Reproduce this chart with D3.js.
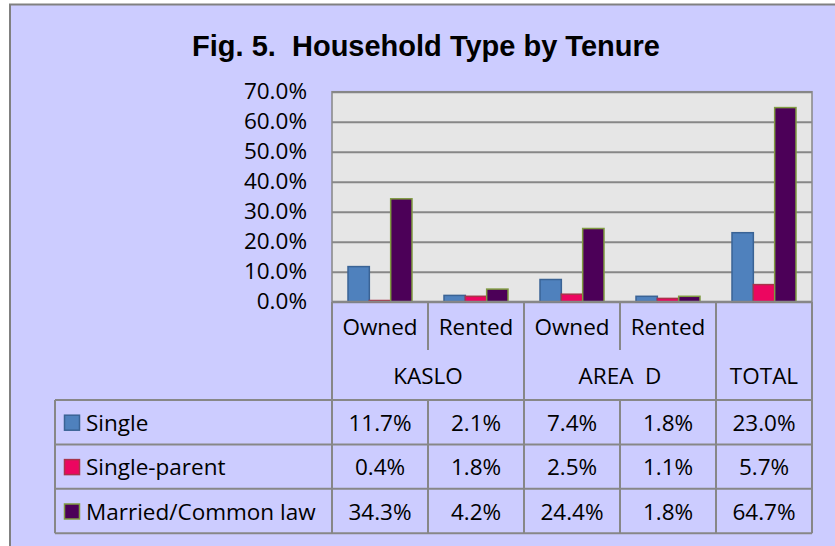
<!DOCTYPE html>
<html>
<head>
<meta charset="utf-8">
<script src="https://cdn.jsdelivr.net/npm/d3@7"></script>
<style>
  body { margin: 0; background: #fff; }
  svg text { font-family: 'Open Sans', 'Noto Sans', sans-serif; fill: #000; }
</style>
</head>
<body>
<div id="chart"></div>
<script>
const title = 'Fig. 5.  Household Type by Tenure';
const tenures = ['Owned', 'Rented', 'Owned', 'Rented', ''];
const groups = ['KASLO', 'AREA  D', 'TOTAL'];
const groupSpans = [2, 2, 1];
const seriesNames = ['Single', 'Single-parent', 'Married/Common law'];
const single = [11.7, 2.1, 7.4, 1.8, 23.0];
const singleParent = [0.4, 1.8, 2.5, 1.1, 5.7];
const married = [34.3, 4.2, 24.4, 1.8, 64.7];
const yTicks = [0, 10, 20, 30, 40, 50, 60, 70];

const fills = ['#4f81bd', '#ec0660', '#4c0058'];
const strokes = ['#3a6395', '#a8344a', '#7f9b41'];

const width = 835;
const height = 546;
const gridColor = '#878787';
const fontSize = '22.5px';

let seriesValues = [single, singleParent, married];
let categories = tenures.map((t, i) => 'c' + i);

let svg = d3.select('#chart')
  .append('svg')
    .attr('width', width)
    .attr('height', height);

// outer frame
svg.append('rect')
  .attr('x', 10)
  .attr('y', 4.5)
  .attr('width', 900)
  .attr('height', 700)
  .attr('fill', '#ccccff')
  .attr('stroke', '#808080')
  .attr('stroke-width', 2);

svg.append('text')
  .attr('x', 426)
  .attr('y', 56)
  .attr('text-anchor', 'middle')
  .style('font-family', "'Liberation Sans', Arial, sans-serif")
  .style('font-weight', 'bold')
  .style('font-size', '29px')
  .style('white-space', 'pre')
  .text(title);

let plot = { left: 332, right: 812, top: 91.7, bottom: 301.7 };

let xScale = d3.scaleBand()
  .domain(categories)
  .range([plot.left, plot.right])
  .padding(0);

let xInner = d3.scaleBand()
  .domain(seriesNames)
  .range([0, xScale.bandwidth()])
  .paddingInner(0)
  .paddingOuter(0.75);

let yScale = d3.scaleLinear()
  .domain([0, 70])
  .range([plot.bottom, plot.top]);

svg.append('rect')
  .attr('x', plot.left)
  .attr('y', plot.top)
  .attr('width', plot.right - plot.left)
  .attr('height', plot.bottom - plot.top)
  .attr('fill', '#e6e6e6')
  .attr('stroke', gridColor)
  .attr('stroke-width', 1.5);

let yAxis = d3.axisLeft(yScale)
  .tickValues(yTicks)
  .tickSize(-(plot.right - plot.left))
  .tickPadding(25)
  .tickFormat(d => d3.format('.1f')(d) + '%');

let yAxisGroup = svg.append('g')
  .attr('transform', `translate(${plot.left},0)`)
  .call(yAxis);
yAxisGroup.select('.domain').remove();
yAxisGroup.selectAll('.tick line')
  .attr('stroke', gridColor)
  .attr('stroke-width', 2);
yAxisGroup.selectAll('.tick text')
  .attr('fill', '#000')
  .style('font-size', fontSize)
  .style('font-family', "'Open Sans', sans-serif");

// bars
let barData = [];
seriesValues.forEach((vals, s) => {
  vals.forEach((v, i) => barData.push({ cat: categories[i], series: seriesNames[s], s: s, value: v }));
});

svg.append('g')
  .selectAll('rect')
  .data(barData)
  .enter()
  .append('rect')
    .attr('x', d => xScale(d.cat) + xInner(d.series))
    .attr('y', d => yScale(d.value))
    .attr('width', xInner.bandwidth())
    .attr('height', d => yScale(0) - yScale(d.value))
    .attr('fill', d => fills[d.s])
    .attr('stroke', d => strokes[d.s])
    .attr('stroke-width', 1.5);

// category axis baseline
svg.append('line')
  .attr('x1', plot.left)
  .attr('x2', plot.right)
  .attr('y1', yScale(0))
  .attr('y2', yScale(0))
  .attr('stroke', gridColor)
  .attr('stroke-width', 2);

// data table
let rowTop = 302;
let row1 = 350;
let row2 = 400;
let rowH = 44.4;
let tableLeft = 55;
let tableBottom = row2 + rowH * 3;
let table = svg.append('g');

let line = (x1, y1, x2, y2) => table.append('line')
  .attr('x1', x1).attr('y1', y1).attr('x2', x2).attr('y2', y2)
  .attr('stroke', gridColor)
  .attr('stroke-width', 2);

// verticals for the tenure row
categories.forEach(c => line(xScale(c), rowTop, xScale(c), row1));
line(plot.right, rowTop, plot.right, tableBottom);
// verticals for the group row
let acc = 0;
groupSpans.forEach(n => {
  line(xScale(categories[acc]), row1, xScale(categories[acc]), row2);
  acc += n;
});
// verticals for the value rows
categories.forEach(c => line(xScale(c), row2, xScale(c), tableBottom));
line(tableLeft, row2, tableLeft, tableBottom);
// horizontals
for (let r = 0; r <= 3; r++) {
  line(tableLeft, row2 + r * rowH, plot.right, row2 + r * rowH);
}

let cellText = (x, y, str) => table.append('text')
  .attr('x', x)
  .attr('y', y)
  .attr('text-anchor', 'middle')
  .attr('dominant-baseline', 'central')
  .style('font-size', fontSize)
  .text(str);

tenures.forEach((t, i) => cellText(xScale(categories[i]) + xScale.bandwidth() / 2, 326, t));

acc = 0;
groups.forEach((g, k) => {
  let x0 = xScale(categories[acc]);
  let x1 = x0 + xScale.bandwidth() * groupSpans[k];
  cellText((x0 + x1) / 2, 375, g).style('white-space', 'pre');
  acc += groupSpans[k];
});

seriesValues.forEach((vals, s) => {
  let cy = row2 + rowH * s + rowH / 2;
  vals.forEach((v, i) => cellText(xScale(categories[i]) + xScale.bandwidth() / 2, cy, d3.format('.1f')(v) + '%'));

  table.append('rect')
    .attr('x', 64.5)
    .attr('y', cy - 7)
    .attr('width', 15)
    .attr('height', 15)
    .attr('fill', fills[s])
    .attr('stroke', strokes[s])
    .attr('stroke-width', 1.5);

  table.append('text')
    .attr('x', 86)
    .attr('y', cy)
    .attr('dominant-baseline', 'central')
    .style('font-size', fontSize)
    .style('white-space', 'pre')
    .text(seriesNames[s]);
});
</script>
</body>
</html>
